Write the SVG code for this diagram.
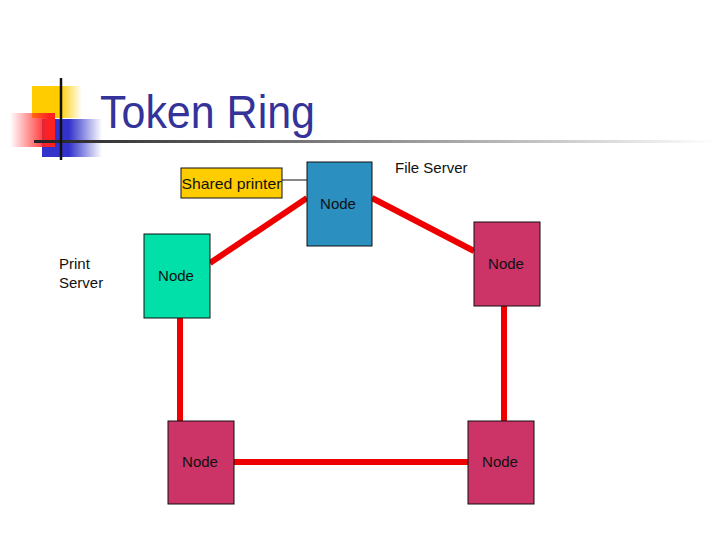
<svg xmlns="http://www.w3.org/2000/svg" width="720" height="540" viewBox="0 0 720 540">
<defs>
<linearGradient id="gY" x1="0" y1="0" x2="1" y2="0"><stop offset="0" stop-color="#FFCC00"/><stop offset="0.55" stop-color="#FFCC00"/><stop offset="1" stop-color="#FFCC00" stop-opacity="0"/></linearGradient>
<linearGradient id="gR" x1="0" y1="0" x2="1" y2="0"><stop offset="0" stop-color="#FF2222" stop-opacity="0"/><stop offset="0.85" stop-color="#FF2222"/><stop offset="1" stop-color="#FF2222"/></linearGradient>
<linearGradient id="gB" x1="0" y1="0" x2="1" y2="0"><stop offset="0" stop-color="#3333CC"/><stop offset="0.45" stop-color="#3333CC"/><stop offset="1" stop-color="#3333CC" stop-opacity="0"/></linearGradient>
<linearGradient id="gL" x1="0" y1="0" x2="1" y2="0"><stop offset="0" stop-color="#222222"/><stop offset="0.4" stop-color="#777777"/><stop offset="1" stop-color="#FFFFFF"/></linearGradient>
</defs>
<style>
.t{font-family:"Liberation Sans",Arial,sans-serif;font-size:15px;fill:#111111}
.box{stroke:#111111;stroke-width:1}
.link{stroke:#EE0000;stroke-width:6;fill:none}
</style>
<rect width="720" height="540" fill="#FFFFFF"/>
<g id="logo">
<rect x="32" y="86" width="50" height="32" fill="url(#gY)"/>
<rect x="42" y="119" width="60" height="38" fill="url(#gB)"/>
<rect x="10" y="113" width="45" height="34" fill="url(#gR)"/>
<rect x="34" y="140" width="682" height="3" fill="url(#gL)"/>
<line x1="61" y1="78" x2="61" y2="160" stroke="#111111" stroke-width="2.5"/>
</g>
<text id="title" x="100" y="128" font-family="Liberation Sans,Arial,sans-serif" font-size="46" fill="#333399" textLength="215" lengthAdjust="spacingAndGlyphs">Token Ring</text>
<g id="connectors">
<line x1="282" y1="180" x2="307" y2="180" stroke="#111111" stroke-width="1"/>
<line class="link" x1="307" y1="198" x2="210" y2="263"/>
<line class="link" x1="372" y1="198" x2="474" y2="251"/>
<line class="link" x1="180" y1="318" x2="180" y2="421"/>
<line class="link" x1="504" y1="306" x2="504" y2="421"/>
<line class="link" x1="234" y1="462" x2="468" y2="462"/>
</g>
<g id="printer">
<rect class="box" x="181" y="168" width="101" height="30" fill="#FFCC00"/>
<text class="t" x="231.5" y="189" text-anchor="middle" textLength="100" lengthAdjust="spacingAndGlyphs">Shared printer</text>
</g>
<g id="fileserver">
<rect class="box" x="307" y="162" width="65" height="84" fill="#2B8FC0"/>
<text class="t" x="338" y="209" text-anchor="middle">Node</text>
<text class="t" x="395" y="173">File Server</text>
</g>
<g id="printserver">
<rect class="box" x="144" y="234" width="66" height="84" fill="#00E0A8"/>
<text class="t" x="176" y="281" text-anchor="middle">Node</text>
<text class="t" x="59" y="269">Print</text>
<text class="t" x="59" y="288">Server</text>
</g>
<g id="node-right">
<rect class="box" x="474" y="222" width="66" height="84" fill="#CC3366"/>
<text class="t" x="506" y="269" text-anchor="middle">Node</text>
</g>
<g id="node-bottom-left">
<rect class="box" x="168" y="421" width="66" height="83" fill="#CC3366"/>
<text class="t" x="200" y="467" text-anchor="middle">Node</text>
</g>
<g id="node-bottom-right">
<rect class="box" x="468" y="421" width="66" height="83" fill="#CC3366"/>
<text class="t" x="500" y="467" text-anchor="middle">Node</text>
</g>
</svg>
